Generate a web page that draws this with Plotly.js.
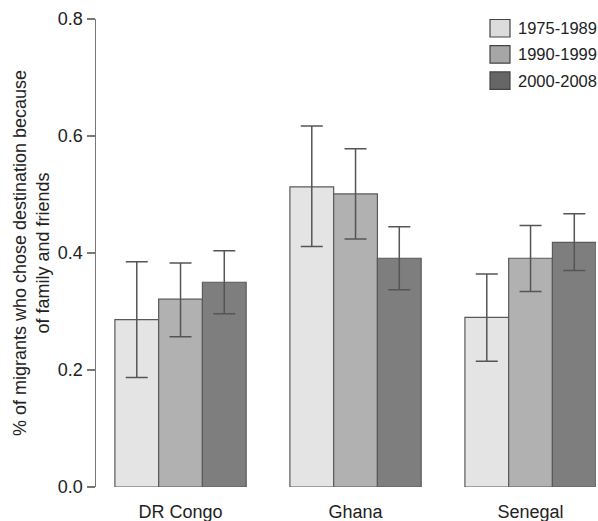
<!DOCTYPE html>
<html>
<head>
<meta charset="utf-8">
<script src="https://cdn.plot.ly/plotly-3.0.1.min.js"></script>
<style>html,body{margin:0;padding:0;background:#fff;}#chart{width:598px;height:521px;}</style>
</head>
<body>
<div id="chart"></div>
<script>
// Share of migrants who chose their destination because of family and friends
const countries = ["DR Congo", "Ghana", "Senegal"];
const periods = ["1975-1989", "1990-1999", "2000-2008"];

const share1975 = [0.286, 0.513, 0.290];
const share1990 = [0.321, 0.501, 0.391];
const share2000 = [0.350, 0.391, 0.418];

const upper1975 = [0.385, 0.617, 0.364];
const upper1990 = [0.383, 0.578, 0.447];
const upper2000 = [0.404, 0.445, 0.467];

const lower1975 = [0.187, 0.411, 0.215];
const lower1990 = [0.257, 0.424, 0.334];
const lower2000 = [0.296, 0.337, 0.370];

const yTicks = [0, 0.2, 0.4, 0.6, 0.8];
const yTickText = ["0.0", "0.2", "0.4", "0.6", "0.8"];

const fills = ["#e4e4e4", "#b1b1b1", "#7e7e7e"];
const keyFills = ["#dcdcdc", "#a6a6a6", "#666666"];
const series = [share1975, share1990, share2000];
const uppers = [upper1975, upper1990, upper2000];
const lowers = [lower1975, lower1990, lower2000];

const W = 598, H = 521;
const M = { l: 96, r: 2, t: 19, b: 34 };
const plotW = W - M.l - M.r, plotH = H - M.t - M.b;
// pixel -> paper coordinates for the key
const px = v => (v - M.l) / plotW;
const py = v => (H - M.b - v) / plotH;

const traces = series.map((vals, i) => ({
  type: "bar",
  name: periods[i],
  x: countries,
  y: vals,
  marker: { color: fills[i], line: { color: "#5a5a5a", width: 1.2 } },
  error_y: {
    type: "data",
    symmetric: false,
    array: uppers[i].map((u, k) => u - vals[k]),
    arrayminus: vals.map((v, k) => v - lowers[i][k]),
    color: "#555555",
    thickness: 1.5,
    width: 11
  },
  hoverinfo: "skip"
}));

const fontFamily = "Liberation Sans, Arial, sans-serif";
const font = { family: fontFamily, size: 18, color: "#222222" };

// key: swatch boxes and labels in the top-right corner
const shapes = [], annotations = [];
periods.forEach((p, i) => {
  const top = 19.5 + i * 26.2;
  shapes.push({
    type: "rect", xref: "paper", yref: "paper",
    x0: px(490), x1: px(510), y0: py(top), y1: py(top + 17.5),
    fillcolor: keyFills[i], line: { color: "#444444", width: 1.2 }
  });
  annotations.push({
    xref: "paper", yref: "paper", x: px(516), y: py(top + 8.75),
    xanchor: "left", yanchor: "middle", showarrow: false,
    text: p, font: { family: fontFamily, size: 16.5, color: "#222222" }
  });
});

const layout = {
  width: W,
  height: H,
  margin: { l: M.l, r: M.r, t: M.t, b: M.b, pad: 0 },
  paper_bgcolor: "#ffffff",
  plot_bgcolor: "#ffffff",
  font: font,
  barmode: "group",
  bargap: 0.25,
  bargroupgap: 0,
  showlegend: false,
  shapes: shapes,
  annotations: annotations,
  xaxis: {
    type: "category",
    range: [-0.483, 2.374],
    showline: false,
    showgrid: false,
    zeroline: false,
    ticks: "",
    tickfont: font,
    ticklabelstandoff: 12
  },
  yaxis: {
    range: [0, 0.8],
    tickvals: yTicks,
    ticktext: yTickText,
    showline: true,
    linecolor: "#777777",
    linewidth: 1.5,
    ticks: "outside",
    ticklen: 8,
    tickwidth: 1.2,
    tickcolor: "#777777",
    showgrid: false,
    zeroline: false,
    tickfont: font,
    title: {
      text: "% of migrants who chose destination because<br>of family and friends",
      font: { family: fontFamily, size: 18, color: "#222222" },
      standoff: 3
    }
  }
};

Plotly.newPlot("chart", traces, layout, { staticPlot: true, displayModeBar: false });
</script>
</body>
</html>
